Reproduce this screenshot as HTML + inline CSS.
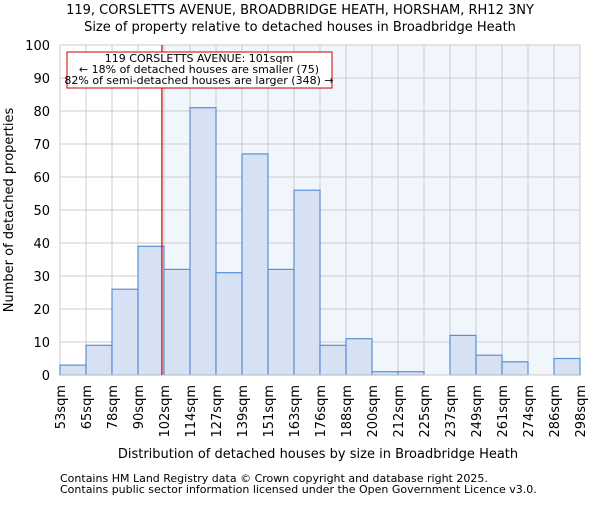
<!DOCTYPE html>
<html><head><meta charset="utf-8"><style>
body{margin:0;background:#fff;font-family:"Liberation Sans","DejaVu Sans",sans-serif}
</style></head><body>
<svg width="600" height="500" font-family="DejaVu Sans, Liberation Sans, sans-serif">
<text x="300" y="14" text-anchor="middle" font-size="13">119, CORSLETTS AVENUE, BROADBRIDGE HEATH, HORSHAM, RH12 3NY</text>
<text x="300" y="31" text-anchor="middle" font-size="13">Size of property relative to detached houses in Broadbridge Heath</text>
<g id="plot"></g>
<text x="318" y="458" text-anchor="middle" font-size="13">Distribution of detached houses by size in Broadbridge Heath</text>
<text transform="translate(13,210) rotate(-90)" text-anchor="middle" font-size="13">Number of detached properties</text>
<text x="60" y="482" font-size="11">Contains HM Land Registry data © Crown copyright and database right 2025.</text>
<text x="60" y="493" font-size="11">Contains public sector information licensed under the Open Government Licence v3.0.</text>
</svg>
<script>
const labels=["53sqm","65sqm","78sqm","90sqm","102sqm","114sqm","127sqm","139sqm","151sqm","163sqm","176sqm","188sqm","200sqm","212sqm","225sqm","237sqm","249sqm","261sqm","274sqm","286sqm","298sqm"];
const counts=[3,9,26,39,32,81,31,67,32,56,9,11,1,1,0,12,6,4,0,5];
const yTicks=[0,10,20,30,40,50,60,70,80,90,100];
const markerBin=3.92;
const ns="http://www.w3.org/2000/svg";
const g=document.getElementById('plot');
const X0=60,X1=580,Y0=375,Y1=45,bw=(X1-X0)/counts.length;
const xs=i=>X0+i*bw, ys=v=>Y0-(v/100)*(Y0-Y1);
function mk(t,a){const e=document.createElementNS(ns,t);for(const k in a)e.setAttribute(k,a[k]);g.appendChild(e);return e;}
let e=mk('rect',{x:xs(markerBin),y:Y1,width:X1-xs(markerBin),height:Y0-Y1,fill:'#eef3fb',opacity:0.8});


yTicks.forEach(t=>{const l=mk('line',{x1:X0,x2:X1,y1:ys(t),y2:ys(t),stroke:'#ccc'});


const tx=mk('text',{x:X0-10,y:ys(t)+5,'text-anchor':'end','font-size':13});tx.textContent=t;

});
labels.forEach((s,i)=>{const l=mk('line',{x1:xs(i),x2:xs(i),y1:Y1,y2:Y0,stroke:'#ccc'});


const tx=mk('text',{transform:`translate(${xs(i)+5},${Y0+10}) rotate(-90)`,'text-anchor':'end','font-size':13});tx.textContent=s;

});
counts.forEach((v,i)=>{if(v<=0)return;const r=mk('rect',{x:xs(i),y:ys(v),width:bw,height:Y0-ys(v),fill:'#d6e1f3',stroke:'#5b8fd6','stroke-width':1.2});

});
e=mk('line',{x1:X0,x2:X1,y1:Y0,y2:Y0,stroke:'#ccc'});


const mx=xs(markerBin);
e=mk('line',{x1:mx,x2:mx,y1:Y1,y2:Y0,stroke:'#cc0000','stroke-width':1.2});


e=mk('rect',{x:67,y:52,width:265,height:36,fill:'#fff',stroke:'#cc0000'});


[["119 CORSLETTS AVENUE: 101sqm",62],["← 18% of detached houses are smaller (75)",73],["82% of semi-detached houses are larger (348) →",84]].forEach(([s,y])=>{const t=mk('text',{x:199,y:y,'text-anchor':'middle','font-size':11});t.textContent=s;

});
</script>
</body></html>
